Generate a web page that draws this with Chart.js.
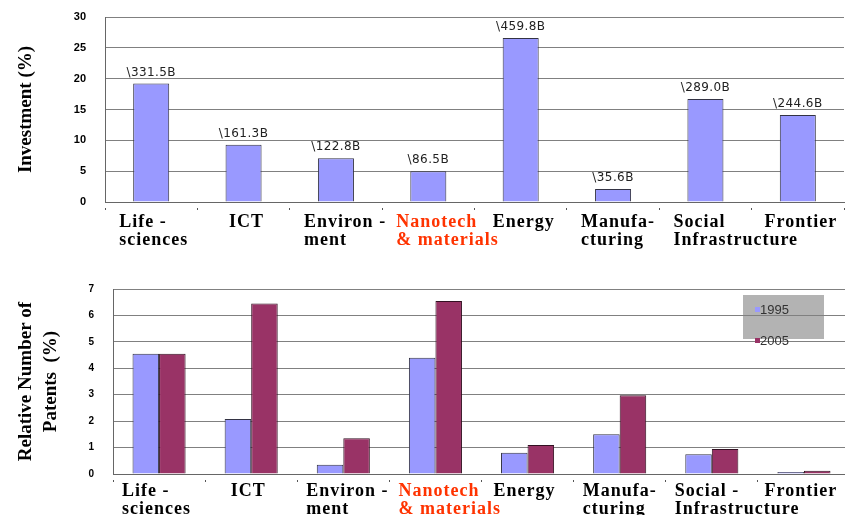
<!DOCTYPE html>
<html><head><meta charset="utf-8">
<script src="https://cdn.jsdelivr.net/npm/chart.js@4.4.0/dist/chart.umd.min.js"></script>
<style>
html,body{margin:0;padding:0;background:#fff;width:845px;height:515px;overflow:hidden;position:relative}
#c1{position:absolute;left:0;top:0}
#c2{position:absolute;left:0;top:250px}
</style></head><body>
<canvas id="c1" width="845" height="250"></canvas>
<canvas id="c2" width="850" height="265"></canvas>
<script>
// ---- data ----
const topCategories = [["Life -","sciences"],"ICT",["Environ -","ment"],["Nanotech","& materials"],"Energy",["Manufa-","cturing"],["Social","Infrastructure"],"Frontier"];
const bottomCategories = [["Life -","sciences"],"ICT",["Environ -","ment"],["Nanotech","& materials"],"Energy",["Manufa-","cturing"],["Social -","Infrastructure"],"Frontier"];
const investmentShare = [19.2, 9.3, 7.1, 5.0, 26.6, 2.1, 16.7, 14.1];
const investmentLabels = ["\\331.5B","\\161.3B","\\122.8B","\\86.5B","\\459.8B","\\35.6B","\\289.0B","\\244.6B"];
const patents1995 = [4.55, 2.08, 0.35, 4.4, 0.8, 1.5, 0.75, 0.08];
const patents2005 = [4.55, 6.45, 1.35, 6.55, 1.1, 2.98, 0.95, 0.12];
const seriesNames = ["1995", "2005"];
const topTicks = [0, 5, 10, 15, 20, 25, 30];
const bottomTicks = [0, 1, 2, 3, 4, 5, 6, 7];

const BLUE = '#9999ff', MAROON = '#993366', RED = '#ff3300';
const serifBold = {family:'"Liberation Serif","Times New Roman",serif', size:18, weight:'bold', lineHeight:1};
const tickColor = (ctx) => ctx.index === 3 ? RED : '#000';

const valueLabels = {
  id:'valueLabels',
  afterDatasetsDraw(chart){
    const ctx = chart.ctx, meta = chart.getDatasetMeta(0);
    ctx.save();
    ctx.font = '12px "DejaVu Sans", sans-serif';
    ctx.letterSpacing = '0.4px';
    ctx.fillStyle = '#222';
    ctx.textAlign = 'center';
    ctx.textBaseline = 'alphabetic';
    meta.data.forEach((bar, i) => ctx.fillText(investmentLabels[i], bar.x, bar.y - 8));
    ctx.restore();
  }
};

const boxLegend = {
  id:'boxLegend',
  beforeDraw(chart){
    const ctx = chart.ctx;
    ctx.save();
    ctx.fillStyle = '#b3b3b3';
    ctx.fillRect(743, 45, 81, 44);
    ctx.restore();
  },
  afterDraw(chart){
    const ctx = chart.ctx;
    ctx.save();
    ctx.font = '13px "Liberation Sans", Arial, sans-serif';
    ctx.textBaseline = 'middle';
    ctx.textAlign = 'left';
    const rows = [[BLUE, 60], [MAROON, 91]];
    rows.forEach(([c, y], i) => {
      ctx.fillStyle = c;
      ctx.fillRect(755, y - 3, 5, 5);
      ctx.fillStyle = '#333';
      ctx.fillText(seriesNames[i], 760, y);
    });
    ctx.restore();
  }
};

function xScale(labelsPad, h){
  return {
    offset:true,
    afterFit(s){ s.height = h; s.paddingLeft = 0; s.paddingRight = 0; },
    grid:{display:true, drawOnChartArea:false, drawTicks:true, tickLength:8, tickColor:'#555', tickBorderDash:[0,5,2,20]},
    border:{display:true, color:'#666', width:1},
    ticks:{autoSkip:false, maxRotation:0, minRotation:0, padding:labelsPad, color:tickColor, font:serifBold}
  };
}

// multi-line category labels are left-aligned blocks (as text boxes in the original)
function styleXLabels(chart, multiShift, singleShift){
  const sx = chart.scales.x;
  const orig = sx.drawLabels.bind(sx);
  sx.drawLabels = function(area){
    const items = this.getLabelItems(area);
    items.forEach(it => {
      if (it._done) return;
      it._done = true;
      if (Array.isArray(it.label)) { it.options.textAlign = 'left'; it.options.translation[0] += multiShift; }
      else { it.options.translation[0] += singleShift; }
    });
    const ctx = this.ctx;
    ctx.save();
    ctx.letterSpacing = '1px';
    orig(area);
    ctx.restore();
  };
  chart.draw();
}

const chartTop = new Chart(document.getElementById('c1'), {
  type:'bar',
  data:{
    labels: topCategories,
    datasets:[{data: investmentShare, backgroundColor: BLUE, borderColor:'#333344', borderWidth:1, barPercentage:0.39, categoryPercentage:1}]
  },
  options:{
    responsive:false, animation:false,
    layout:{padding:{top:17, left:0, right:1, bottom:0}},
    plugins:{legend:{display:false}, tooltip:{enabled:false}},
    scales:{
      x: xScale(3, 48),
      y:{
        min:0, max:30,
        afterBuildTicks(s){ s.ticks = topTicks.map(v => ({value:v})); },
        afterFit(s){ s.width = 105; s.paddingTop = 0; s.paddingBottom = 0; },
        grid:{color:'#808080', lineWidth:1, drawTicks:false},
        border:{display:true, color:'#666', width:1},
        ticks:{padding:19, color:'#000', font:{family:'"Liberation Sans",Arial,sans-serif', size:11, weight:'bold'}},
        title:{display:true, text:'Investment (%)', color:'#000', padding:{top:14, bottom:0},
               font:{family:'"Liberation Serif","Times New Roman",serif', size:19, weight:'bold', lineHeight:24/19}}
      }
    }
  },
  plugins:[valueLabels]
});
styleXLabels(chartTop, -32, 3);

const chartBottom = new Chart(document.getElementById('c2'), {
  type:'bar',
  data:{
    labels: bottomCategories,
    datasets:[
      {label:seriesNames[0], data: patents1995, backgroundColor: BLUE, borderColor:'#333344', borderWidth:1, barPercentage:1, categoryPercentage:0.576},
      {label:seriesNames[1], data: patents2005, backgroundColor: MAROON, borderColor:'#331122', borderWidth:1, barPercentage:1, categoryPercentage:0.576}
    ]
  },
  options:{
    responsive:false, animation:false,
    layout:{padding:{top:39, left:0, right:0, bottom:0}},
    plugins:{legend:{display:false}, tooltip:{enabled:false}},
    scales:{
      x: xScale(0, 41),
      y:{
        min:0, max:7,
        afterBuildTicks(s){ s.ticks = bottomTicks.map(v => ({value:v})); },
        afterFit(s){ s.width = 113; s.paddingTop = 0; s.paddingBottom = 0; },
        grid:{color:'#808080', lineWidth:1, drawTicks:false},
        border:{display:true, color:'#666', width:1},
        ticks:{padding:19, color:'#000', font:{family:'"Liberation Sans",Arial,sans-serif', size:10, weight:'bold'}},
        title:{display:true, text:['Relative Number of','Patents  (%)'], color:'#000', padding:{top:14, bottom:0},
               font:{family:'"Liberation Serif","Times New Roman",serif', size:19, weight:'bold', lineHeight:25/19}}
      }
    }
  },
  plugins:[boxLegend]
});
styleXLabels(chartBottom, -37, -3);
</script>
</body></html>
